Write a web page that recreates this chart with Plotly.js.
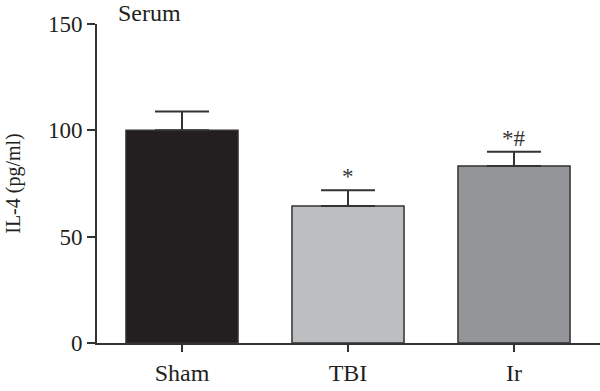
<!DOCTYPE html>
<html>
<head>
<meta charset="utf-8">
<script src="https://cdn.plot.ly/plotly-3.0.1.min.js"></script>
<style>html,body{margin:0;padding:0;background:#fff;}#chart{width:600px;height:391px;}</style>
</head>
<body>
<div id="chart"></div>
<script>
var categories = ["Sham", "TBI", "Ir"];
var means = [100, 64.4, 83.2];
var errUpper = [8.9, 7.4, 6.7];
var sigLabels = ["", "*", "*#"];
var barColors = ["#231f20", "#bcbec0", "#939598"];
var yTicks = [0, 50, 100, 150];

var FONT = "Liberation Serif, Times New Roman, serif";
var INK = "#333333";
var TXT = "#231f20";

var trace = {
  type: "bar",
  x: categories,
  y: means,
  width: 0.675,
  marker: {color: barColors, line: {color: INK, width: 1.5}},
  error_y: {type: "data", symmetric: false, array: errUpper, arrayminus: [0,0,0],
            color: INK, thickness: 2, width: 27},
  hoverinfo: "none"
};

var annotations = [];
for (var i = 0; i < categories.length; i++) {
  if (sigLabels[i]) {
    annotations.push({x: categories[i], y: means[i] + errUpper[i], xref: "x", yref: "y",
      text: sigLabels[i], showarrow: false, yanchor: "bottom", yshift: -1,
      font: {family: FONT, size: 23, color: INK}});
  }
}
annotations.push({xref: "paper", yref: "paper", x: 0.037, y: 1.0, xanchor: "left", yanchor: "middle",
  text: "Serum", showarrow: false, yshift: 11, font: {family: FONT, size: 24, color: TXT}});

var layout = {
  width: 600, height: 391,
  margin: {l: 97, r: 0, t: 24, b: 48, pad: 0},
  paper_bgcolor: "#fff", plot_bgcolor: "#fff",
  showlegend: false,
  font: {family: FONT, size: 23, color: TXT},
  xaxis: {type: "category", range: [-0.512, 2.518], showline: true, linecolor: INK, linewidth: 2,
          ticks: "outside", ticklen: 7, tickwidth: 2, tickcolor: INK, showgrid: false, zeroline: false,
          tickfont: {family: FONT, size: 24, color: TXT}},
  yaxis: {range: [0, 150], tickvals: yTicks, ticktext: yTicks.map(String), showline: true, linecolor: INK, linewidth: 2,
          ticks: "outside", ticklen: 8, tickwidth: 2, tickcolor: INK, showgrid: false, zeroline: false,
          tickfont: {family: FONT, size: 23, color: TXT},
          title: {text: "IL-4 (pg/ml)", font: {family: FONT, size: 20, color: TXT}, standoff: 22}},
  annotations: annotations
};

Plotly.newPlot("chart", [trace], layout, {staticPlot: true, displayModeBar: false});
</script>
</body>
</html>
